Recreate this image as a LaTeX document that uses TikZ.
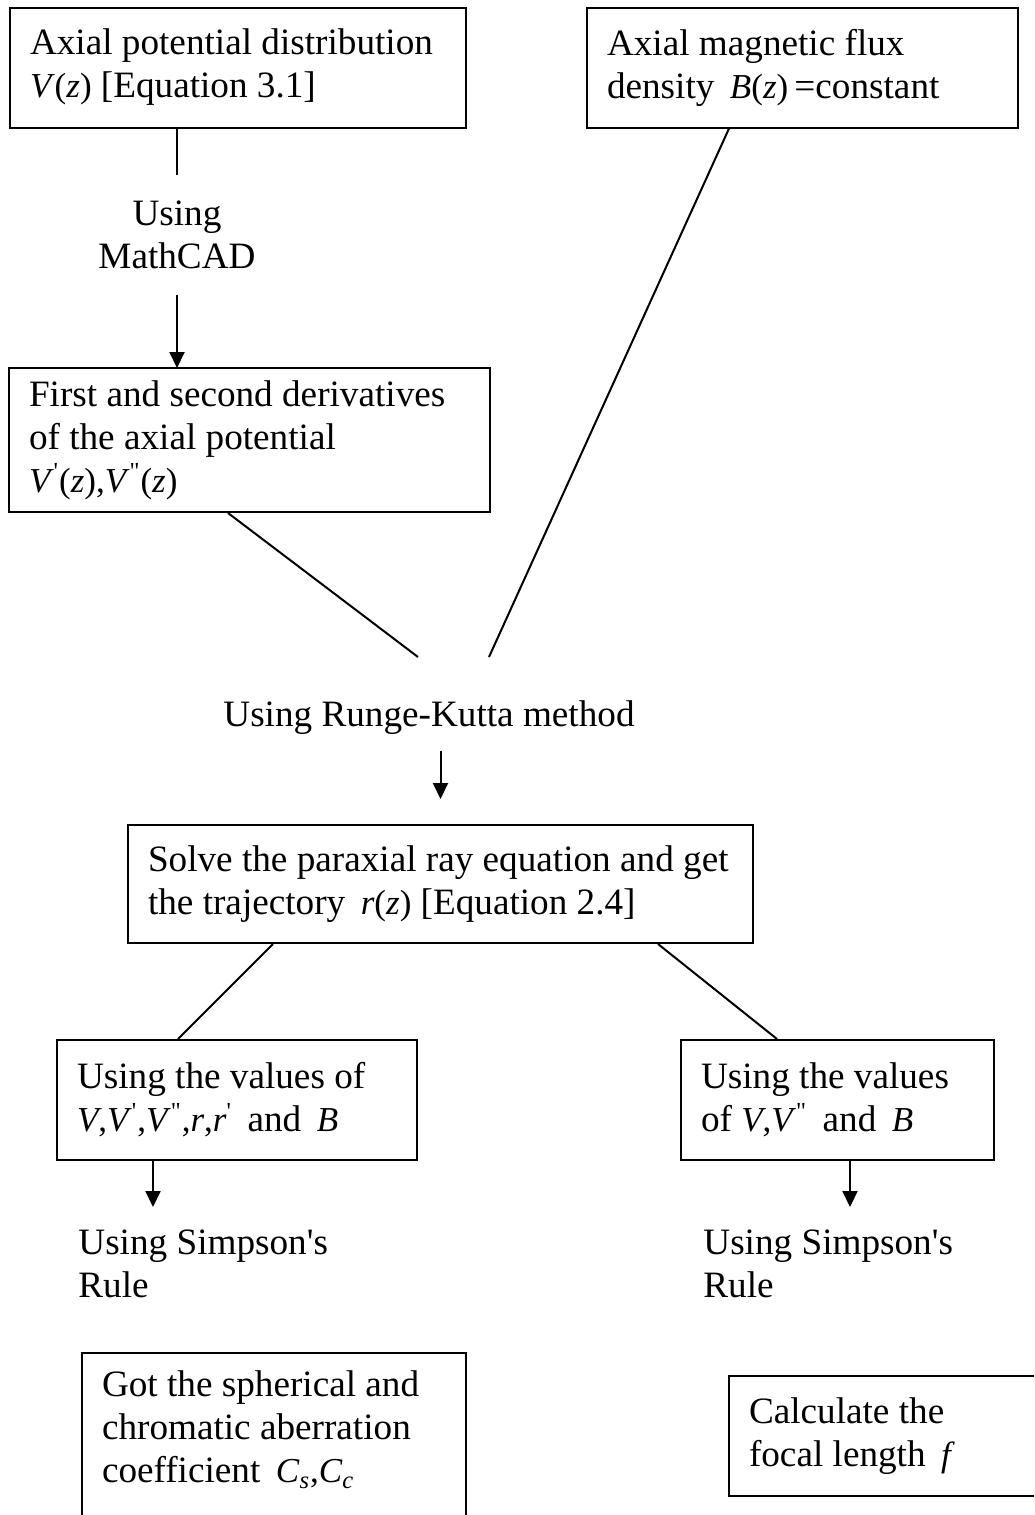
\documentclass[tikz,border=0pt]{standalone}
\usepackage{fontspec}
\setmainfont{Liberation Serif}
\usetikzlibrary{arrows.meta, calc}

\newcommand{\nodefont}{\fontsize{18.6pt}{21.5pt}\selectfont}
\newcommand{\mth}[1]{{\fontsize{17.5pt}{20pt}\selectfont #1}}
\newcommand{\pr}{\textsuperscript{\textquotesingle}}
\newcommand{\ppr}{\textsuperscript{\textquotedbl}}

\begin{document}
\begin{tikzpicture}[x=0.5pt, y=-0.5pt,
    every node/.style={font=\nodefont},
    box/.style={draw, line width=1pt, align=flush left, inner xsep=10pt, inner ysep=2pt},
    lbl/.style={inner sep=0pt, align=flush left},
    line/.style={line width=1pt},
    arr/.style={line, -{Triangle[length=8pt, width=7.5pt]}}
  ]
  \useasboundingbox (0,0) rectangle (1034,1515);
  \clip (0,0) rectangle (1034,1515);

  % --- INPUTS ---
  \node[box, text width=208pt, minimum height=60pt] (Abox) at (238,67.5)
    {Axial potential distribution\\ \mth{\textit{V}(\textit{z})} [Equation 3.1]};
  \node[box, text width=195.5pt, minimum height=60pt] (Bbox) at (802.5,67.5)
    {Axial magnetic flux\\ density \,\mth{\textit{B}(\textit{z})}\,=constant};

  \node[lbl, align=center, minimum height=60pt] (mcad) at (177,235) {Using\\MathCAD};
  \draw[line] (Abox.south -| mcad.north) -- (mcad.north);
  \draw[arr] (mcad.south) -- (mcad.south |- 0,368);

  \node[box, text width=220.5pt, minimum height=72pt] (Cbox) at (249.5,440)
    {First and second derivatives\\ of the axial potential\\
     \mth{\textit{V}\pr(\textit{z}),\textit{V}\ppr(\textit{z})}};

  % --- RUNGE-KUTTA ---
  \node[lbl] (rk) at (429,718) {Using Runge-Kutta method};
  \coordinate (rkL) at (418,657);
  \coordinate (rkR) at (489,657);
  \draw[line] ([xshift=-10.75pt]Cbox.south) -- (rkL);
  \draw[line] ([xshift=-36.75pt]Bbox.south) -- (rkR);

  \node[box, text width=292.5pt, minimum height=59pt] (Dbox) at (440.5,884)
    {\mbox{Solve the paraxial ray equation and get}\\
     the trajectory \,\mth{\textit{r}(\textit{z})} [Equation 2.4]};
  \draw[arr, shorten <=8pt, shorten >=12.5pt] (rk.south -| Dbox.north) -- (Dbox.north);

  % --- TWO BRANCHES ---
  \node[box, text width=160pt, minimum height=60pt] (Ebox) at (237,1100)
    {Using the values of\\
     \mth{\textit{V},\textit{V}\pr,\textit{V}\ppr,\textit{r},\textit{r}\pr} \,and \,\mth{\textit{B}}};
  \node[box, text width=136.5pt, minimum height=60pt] (Fbox) at (837.5,1100)
    {Using the values\\ of \mth{\textit{V},\textit{V}\ppr} \,and \,\mth{\textit{B}}};
  \draw[line] ([xshift=-83.75pt]Dbox.south) -- ([xshift=-29.5pt]Ebox.north);
  \draw[line] ([xshift=108.75pt]Dbox.south) -- ([xshift=-30.25pt]Fbox.north);

  \node[lbl, anchor=north west] (simL) at (78,1229) {Using Simpson\textquotesingle s\\Rule};
  \node[lbl, anchor=north west] (simR) at (703,1229) {Using Simpson\textquotesingle s\\Rule};
  \draw[arr, shorten >=11pt] ([xshift=-42pt]Ebox.south) -- ([xshift=-42pt]Ebox.south |- simL.north);
  \draw[arr, shorten >=11pt] ([xshift=6.25pt]Fbox.south) -- ([xshift=6.25pt]Fbox.south |- simR.north);

  % --- RESULTS ---
  \node[box, anchor=north, inner ysep=9pt, text width=172pt] (Gbox) at (274,1352)
    {Got the spherical and\\ chromatic aberration\\
     coefficient \,\mth{\textit{C}\textsubscript{\textit{s}},\textit{C}\textsubscript{\textit{c}}}\\ \strut};
  \node[box, text width=145.5pt, minimum height=60pt] (Hbox) at (894.5,1436)
    {Calculate the\\ focal length \,\mth{\textit{f}}};
\end{tikzpicture}
\end{document}
